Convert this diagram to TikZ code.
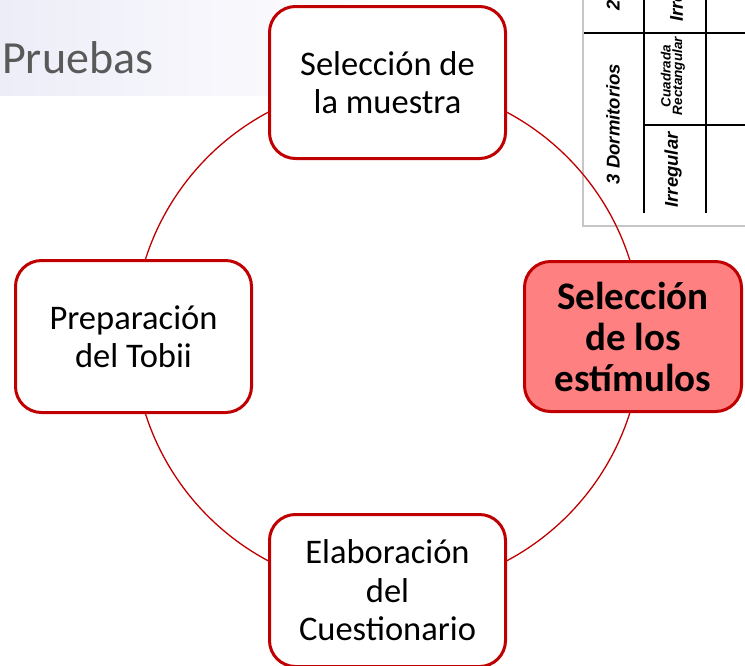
\documentclass[tikz,border=0pt]{standalone}
\usepackage{fontspec}
\setmainfont{Carlito}
\newfontfamily\tablefont{Liberation Sans}
\usetikzlibrary{positioning}
\definecolor{darkred}{HTML}{C00000}
\definecolor{softred}{HTML}{FF8080}
\definecolor{titlegray}{HTML}{595959}
\definecolor{lavender}{HTML}{EDEDF8}

\begin{document}
\begin{tikzpicture}[x=1pt, y=-1pt,
    stage/.style={rectangle, rounded corners=26pt, draw=darkred, line width=3pt, fill=white,
        minimum width=236pt, minimum height=152pt, align=center, inner sep=0pt,
        font=\fontsize{34.5}{38.5}\selectfont},
    focus/.style={stage, fill=softred, minimum width=217pt, minimum height=150pt,
        font=\fontsize{39}{41}\selectfont\bfseries},
    cycle/.style={draw=darkred, line width=1.3pt},
    grid/.style={draw=black, line width=2pt},
    cell/.style={rotate=90, inner sep=0pt, font=\tablefont\bfseries\itshape\fontsize{18.5}{20}\selectfont}
]
    \useasboundingbox (0,0) rectangle (745,665);

    % Title band
    \shade[left color=lavender, right color=white] (0,0) rectangle (400,95);
    \node[anchor=base west, inner sep=0pt, text=titlegray, font=\fontsize{46}{50}\selectfont] (title) at (2,73) {Pruebas};

    % Table picture (cropped)
    \begin{scope}
        \clip (581,0) rectangle (745,228);
        \fill[white] (583,-5) rectangle (750,226);
        \draw[gray!45, line width=2pt] (583,-5) -- (583,226) -- (750,226);
        \draw[grid] (584,33) -- (750,33);
        \draw[grid] (644,-5) -- (644,213);
        \draw[grid] (706,-5) -- (706,213);
        \draw[grid] (644,125) -- (750,125);
        \node[cell, anchor=west] (dos) at (613,11) {2 Dormitorios};
        \node[cell, anchor=west] (irrdos) at (678,22) {Irregular};
        \node[cell] (tres) at (613,124) {3 Dormitorios};
        \node[cell, align=center, font=\tablefont\bfseries\itshape\fontsize{13.5}{11.5}\selectfont] (cuadrada) at (673,76) {Cuadrada\\Rectangular};
        \node[cell] (irrtres) at (673,170) {Irregular};
    \end{scope}

    % Cycle
    \coordinate (hub) at (387.5,336.5);
    \draw[cycle] (hub) circle[radius=254];

    % Stages
    \node[stage] (muestra) at (387.5,82.5) {Selección de\\la muestra};
    \node[stage] (tobii) at (133.5,336.5) {Preparación\\del Tobii};
    \node[focus] (estimulos) at (633,336.5) {Selección\\de los\\estímulos};
    \node[stage] (cuestionario) at (387.5,590.5) {Elaboración\\del\\Cuestionario};

\end{tikzpicture}
\end{document}
